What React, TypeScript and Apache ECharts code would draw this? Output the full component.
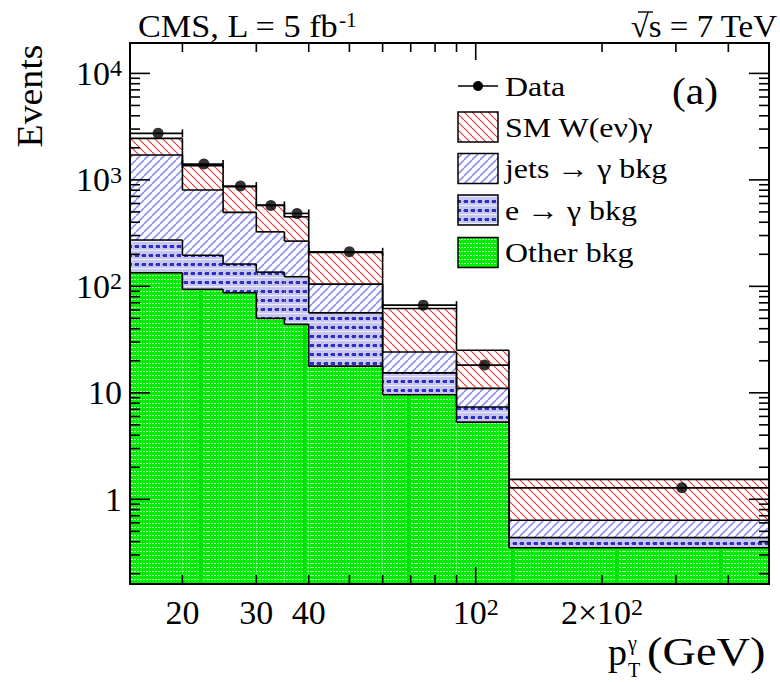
import React, { useEffect, useRef } from 'react';
import * as echarts from 'echarts';

// Photon pT bins (GeV) and stacked expectations per bin
const BIN_EDGES = [15, 20, 25, 30, 35, 40, 60, 90, 120, 500];
const OTHER_BKG = [134, 94, 87, 50, 44, 17.8, 9.6, 5.3, 0.35];
const E_TO_GAMMA = [138, 102, 75, 86, 79, 38.5, 5.8, 2.06, 0.086];
const JETS_TO_GAMMA = [1439, 606, 333, 189, 143, 48.7, 8.8, 3.64, 0.2];
const SM_W_GAMMA = [744, 558, 366, 255, 184, 103, 37.8, 14.1, 0.9];
const DATA_COUNTS = [2735, 1407, 874, 575, 484, 211, 66.6, 18.2, 1.28];

// Axis ranges, ticks and tick labels
const X_RANGE = [15, 500];
const Y_RANGE = [0.16, 19300];
const X_MAJOR_TICKS = [100];
const X_MINOR_TICKS = [20, 30, 40, 50, 60, 70, 80, 90, 200, 300, 400];
const X_LABEL_VALUES = [20, 30, 40, 100, 200];
const X_LABEL_TEXTS = ['20', '30', '40', '10{sup|2}', '2×10{sup|2}'];
const Y_MAJOR_TICKS = [1, 10, 100, 1000, 10000];
const Y_DECADES = [0.1, 1, 10, 100, 1000];
const Y_MINOR_STEPS = [2, 3, 4, 5, 6, 7, 8, 9];
const Y_LABEL_TEXTS: Record<string, string> = {
  '1': '1',
  '10': '10',
  '100': '10{sup|2}',
  '1000': '10{sup|3}',
  '10000': '10{sup|4}',
};

const LEGEND_NAMES = ['Data', 'SM W(eν)γ', 'jets → γ bkg', 'e → γ bkg', 'Other bkg'];

const FONT = '"Liberation Serif", "Times New Roman", serif';

function tile(w: number, h: number, draw: (ctx: CanvasRenderingContext2D) => void) {
  const c = document.createElement('canvas');
  c.width = w;
  c.height = h;
  const ctx = c.getContext('2d') as CanvasRenderingContext2D;
  draw(ctx);
  return { image: c, repeat: 'repeat', imageWidth: w, imageHeight: h };
}

function hatch(size: number, color: string, width: number, down: boolean) {
  return tile(size, size, (ctx) => {
    ctx.strokeStyle = color;
    ctx.lineWidth = width;
    for (const off of [-size, 0, size]) {
      ctx.beginPath();
      if (down) {
        ctx.moveTo(off, 0);
        ctx.lineTo(off + size, size);
      } else {
        ctx.moveTo(off, size);
        ctx.lineTo(off + size, 0);
      }
      ctx.stroke();
    }
  });
}

function buildPatterns() {
  const sm = hatch(8, '#f03030', 1.1, true);
  const jets = hatch(8, '#8f8ff0', 1.6, false);
  const ele = tile(7, 9, (ctx) => {
    ctx.fillStyle = '#c6c6ee';
    ctx.fillRect(0, 0, 7, 9);
    ctx.fillStyle = '#ececfa';
    ctx.fillRect(0, 7, 7, 1);
    ctx.fillStyle = '#2f2fc4';
    ctx.fillRect(2, 2, 4, 3);
    ctx.fillStyle = '#6a6adc';
    ctx.fillRect(1, 3, 1, 1);
  });
  const other = tile(104, 4, (ctx) => {
    ctx.fillStyle = '#00ee00';
    ctx.fillRect(0, 0, 104, 4);
    for (let x = 0; x < 104; x += 3) {
      ctx.fillStyle = '#b4f6b4';
      ctx.fillRect(x, 3, 2, 1);
    }
    ctx.fillStyle = '#00e000';
    ctx.fillRect(95, 0, 3, 4);
  });
  return { sm, jets, ele, other };
}

function buildOption() {
  const P = buildPatterns();
  const components = [OTHER_BKG, E_TO_GAMMA, JETS_TO_GAMMA, SM_W_GAMMA];
  const fills = [P.other, P.ele, P.jets, P.sm];
  const seriesNames = ['Other bkg', 'e → γ bkg', 'jets → γ bkg', 'SM W(eν)γ'];
  const nBins = BIN_EDGES.length - 1;

  // cumulative stack tops
  const cumulative = components.map((_, k) =>
    Array.from({ length: nBins }, (_, i) =>
      components.slice(0, k + 1).reduce((s, c) => s + c[i], 0)
    )
  );

  const fillSeries = components.map((_, k) => ({
    type: 'custom',
    name: seriesNames[k],
    coordinateSystem: 'cartesian2d',
    silent: true,
    encode: { x: [0, 1], y: [2, 3] },
    data: Array.from({ length: nBins }, (_, i) => [
      BIN_EDGES[i],
      BIN_EDGES[i + 1],
      k === 0 ? Y_RANGE[0] : cumulative[k - 1][i],
      cumulative[k][i],
    ]),
    renderItem: (params: any, api: any) => {
      const a = api.coord([api.value(0), api.value(3)]);
      const b = api.coord([api.value(1), api.value(2)]);
      return {
        type: 'rect',
        shape: { x: a[0], y: a[1], width: b[0] - a[0], height: b[1] - a[1] },
        style: { fill: fills[k], stroke: null },
      };
    },
  }));

  const outlineData: number[][] = [];
  cumulative.forEach((tops) => {
    tops.forEach((top, i) => {
      outlineData.push([BIN_EDGES[i], BIN_EDGES[i + 1], top, i === 0 ? top : tops[i - 1]]);
    });
  });

  const outlineSeries = {
    type: 'custom',
    name: 'outline',
    coordinateSystem: 'cartesian2d',
    silent: true,
    encode: { x: [0, 1], y: [2, 3] },
    data: outlineData,
    renderItem: (params: any, api: any) => {
      const a = api.coord([api.value(0), api.value(2)]);
      const b = api.coord([api.value(1), api.value(2)]);
      const c = api.coord([api.value(0), api.value(3)]);
      const st = { stroke: '#000', lineWidth: 1.6 };
      return {
        type: 'group',
        children: [
          { type: 'line', shape: { x1: a[0], y1: a[1], x2: b[0], y2: b[1] }, style: st },
          { type: 'line', shape: { x1: c[0], y1: c[1], x2: a[0], y2: a[1] }, style: st },
        ],
      };
    },
  };

  const frameSeries = {
    type: 'custom',
    name: 'frame',
    coordinateSystem: 'cartesian2d',
    silent: true,
    encode: { x: 0, y: 1 },
    data: [[X_RANGE[0], Y_RANGE[0]]],
    renderItem: (params: any, api: any) => {
      const lb = api.coord([X_RANGE[0], Y_RANGE[0]]);
      const rt = api.coord([X_RANGE[1], Y_RANGE[1]]);
      const L = lb[0], B = lb[1], R = rt[0], T = rt[1];
      const ch: any[] = [];
      const seg = (x1: number, y1: number, x2: number, y2: number) =>
        ch.push({ type: 'line', shape: { x1, y1, x2, y2 }, style: { stroke: '#000', lineWidth: 1.6 } });
      X_MINOR_TICKS.forEach((v) => {
        const x = api.coord([v, Y_RANGE[0]])[0];
        seg(x, B, x, B - 9);
        seg(x, T, x, T + 9);
      });
      X_MAJOR_TICKS.forEach((v) => {
        const x = api.coord([v, Y_RANGE[0]])[0];
        seg(x, B, x, B - 17);
        seg(x, T, x, T + 17);
      });
      Y_MAJOR_TICKS.forEach((v) => {
        const y = api.coord([X_RANGE[0], v])[1];
        seg(L, y, L + 20, y);
        seg(R, y, R - 20, y);
      });
      Y_DECADES.forEach((d) => {
        Y_MINOR_STEPS.forEach((s) => {
          const v = d * s;
          if (v <= Y_RANGE[0] || v >= Y_RANGE[1]) return;
          const y = api.coord([X_RANGE[0], v])[1];
          seg(L, y, L + 10, y);
          seg(R, y, R - 10, y);
        });
      });
      ch.push({
        type: 'rect',
        shape: { x: L, y: T, width: R - L, height: B - T },
        style: { fill: 'none', stroke: '#000', lineWidth: 2 },
      });
      return { type: 'group', children: ch };
    },
  };

  const centers = DATA_COUNTS.map((_, i) => (BIN_EDGES[i] + BIN_EDGES[i + 1]) / 2);

  const errorSeries = {
    type: 'custom',
    name: 'Data errors',
    coordinateSystem: 'cartesian2d',
    silent: true,
    encode: { x: [0, 1], y: 2 },
    data: DATA_COUNTS.map((v, i) => [BIN_EDGES[i], BIN_EDGES[i + 1], v]),
    renderItem: (params: any, api: any) => {
      const a = api.coord([api.value(0), api.value(2)]);
      const b = api.coord([api.value(1), api.value(2)]);
      const st = { stroke: '#000', lineWidth: 1.6 };
      return {
        type: 'group',
        children: [
          { type: 'line', shape: { x1: a[0], y1: a[1], x2: b[0], y2: b[1] }, style: st },
          { type: 'line', shape: { x1: a[0], y1: a[1] - 4, x2: a[0], y2: a[1] + 4 }, style: st },
          { type: 'line', shape: { x1: b[0], y1: b[1] - 4, x2: b[0], y2: b[1] + 4 }, style: st },
        ],
      };
    },
  };

  const dataSeries = {
    type: 'scatter',
    name: 'Data',
    silent: true,
    symbol: 'circle',
    symbolSize: 11,
    itemStyle: { color: '#000' },
    data: DATA_COUNTS.map((v, i) => [centers[i], v]),
  };

  const supRich = { sup: { fontSize: 24, fontFamily: FONT, verticalAlign: 'top', lineHeight: 24 } };

  const xLabelSeries = {
    type: 'custom',
    name: 'x labels',
    coordinateSystem: 'cartesian2d',
    silent: true,
    encode: { x: 0, y: 1 },
    data: X_LABEL_VALUES.map((v) => [v, Y_RANGE[0]]),
    renderItem: (params: any, api: any) => {
      const p = api.coord([api.value(0), api.value(1)]);
      return {
        type: 'text',
        x: p[0],
        y: p[1] + 28,
        style: {
          text: X_LABEL_TEXTS[params.dataIndex],
          align: 'center',
          verticalAlign: 'middle',
          fontSize: 34,
          fontFamily: FONT,
          fill: '#000',
          rich: supRich,
        },
      };
    },
  };

  // legend drawn as graphics
  const legendY = [86, 127, 168.5, 210, 252.5];
  const swatchFills = [null, P.sm, P.jets, P.ele, P.other];
  const legend: any[] = [];
  legend.push({
    type: 'line',
    shape: { x1: 458, y1: legendY[0], x2: 498, y2: legendY[0] },
    style: { stroke: '#000', lineWidth: 1.6 },
  });
  legend.push({ type: 'circle', shape: { cx: 478, cy: legendY[0], r: 5 }, style: { fill: '#000' } });
  for (let i = 1; i < 5; i++) {
    legend.push({
      type: 'rect',
      shape: { x: 458, y: legendY[i] - 15, width: 40, height: 30 },
      style: { fill: swatchFills[i], stroke: '#000', lineWidth: 1.5 },
    });
  }
  LEGEND_NAMES.forEach((name, i) => {
    legend.push({
      type: 'text',
      x: 505,
      y: legendY[i],
      scaleX: 1.14,
      style: { text: name, fontSize: 28, fontFamily: FONT, fill: '#000', align: 'left', verticalAlign: 'middle' },
    });
  });

  const graphics: any[] = [
    ...legend,
    {
      type: 'text',
      x: 672,
      y: 91,
      scaleX: 1.12,
      style: { text: '(a)', fontSize: 37, fontFamily: FONT, fill: '#000', align: 'left', verticalAlign: 'middle' },
    },
    {
      type: 'text',
      x: 138,
      y: 26,
      scaleX: 1.07,
      style: {
        text: 'CMS, L = 5 fb{sup|-1}',
        fontSize: 32,
        fontFamily: FONT,
        fill: '#000',
        align: 'left',
        verticalAlign: 'middle',
        rich: { sup: { fontSize: 20, fontFamily: FONT, verticalAlign: 'top', lineHeight: 20 } },
      },
    },
    {
      type: 'text',
      x: 777,
      y: 26,
      scaleX: 1.03,
      style: { text: '√s = 7 TeV', fontSize: 32, fontFamily: FONT, fill: '#000', align: 'right', verticalAlign: 'middle' },
    },
    {
      type: 'line',
      shape: { x1: 638, y1: 12, x2: 653, y2: 12 },
      style: { stroke: '#000', lineWidth: 1.4 },
    },
    {
      type: 'text',
      x: 30,
      y: 96,
      rotation: Math.PI / 2,
      scaleX: 1.05,
      style: { text: 'Events', fontSize: 36, fontFamily: FONT, fill: '#000', align: 'center', verticalAlign: 'middle' },
    },
    {
      type: 'text',
      x: 608,
      y: 652,
      style: { text: 'p', fontSize: 38, fontFamily: FONT, fill: '#000', align: 'left', verticalAlign: 'middle' },
    },
    {
      type: 'text',
      x: 628,
      y: 643,
      style: { text: 'γ', fontSize: 20, fontFamily: FONT, fill: '#000', align: 'left', verticalAlign: 'middle' },
    },
    {
      type: 'text',
      x: 628,
      y: 670,
      style: { text: 'T', fontSize: 20, fontFamily: FONT, fill: '#000', align: 'left', verticalAlign: 'middle' },
    },
    {
      type: 'text',
      x: 647,
      y: 651,
      scaleX: 1.16,
      style: { text: '(GeV)', fontSize: 40, fontFamily: FONT, fill: '#000', align: 'left', verticalAlign: 'middle' },
    },
  ];

  return {
    animation: false,
    backgroundColor: '#fff',
    textStyle: { fontFamily: FONT },
    grid: { left: 130, top: 43, width: 639, height: 541, containLabel: false, outerBoundsMode: 'none' },
    xAxis: {
      type: 'log',
      logBase: 10,
      min: X_RANGE[0],
      max: X_RANGE[1],
      axisLine: { show: false },
      axisTick: { show: false },
      axisLabel: { show: false },
      splitLine: { show: false },
    },
    yAxis: {
      type: 'log',
      logBase: 10,
      min: Y_RANGE[0],
      max: Y_RANGE[1],
      axisLine: { show: false },
      axisTick: { show: false },
      splitLine: { show: false },
      axisLabel: {
        margin: 8,
        fontSize: 34,
        fontFamily: FONT,
        color: '#000',
        formatter: (v: number) => {
          const e = Math.log10(v);
          if (Math.abs(e - Math.round(e)) > 1e-6) return '';
          return Y_LABEL_TEXTS[String(Math.round(Math.pow(10, Math.round(e))))] ?? '';
        },
        rich: supRich,
      },
    },
    series: [...fillSeries, outlineSeries, frameSeries, errorSeries, dataSeries, xLabelSeries],
    graphic: { elements: graphics },
  };
}

export default function App() {
  const ref = useRef<HTMLDivElement>(null);
  useEffect(() => {
    if (!ref.current) return;
    const chart = echarts.init(ref.current, null, { renderer: 'svg' });
    chart.setOption(buildOption() as any);
    return () => chart.dispose();
  }, []);
  return (
    <div
      ref={ref}
      style={{ position: 'absolute', left: 0, top: 0, width: 780, height: 682, background: '#fff' }}
    />
  );
}
